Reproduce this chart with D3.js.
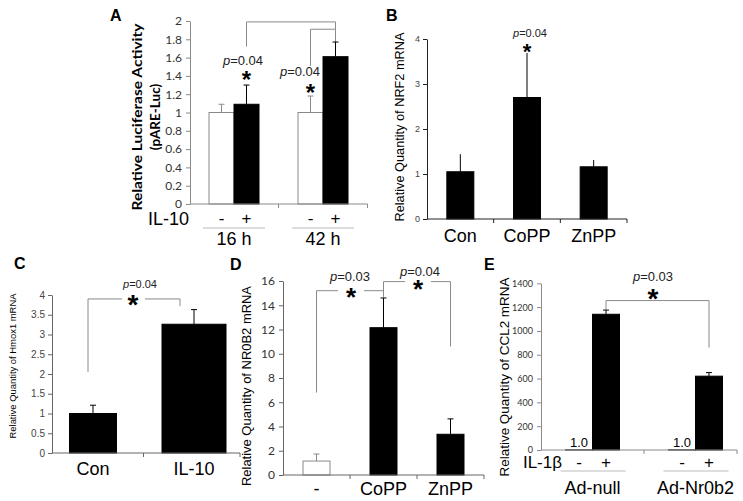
<!DOCTYPE html>
<html>
<head>
<meta charset="utf-8">
<script src="https://cdn.jsdelivr.net/npm/d3@7"></script>
<style>
  body { margin: 0; background: #fff; }
  svg { display: block; }
</style>
</head>
<body>
<svg id="fig" width="743" height="501"></svg>
<script>
// A: luciferase activity
const aGroups = ['16 h', '42 h'];
const aTreat = ['-', '+'];
const aMeans = [[1.0, 1.09], [1.0, 1.61]];
const aErrs = [[0.09, 0.21], [0.18, 0.16]];
const aTicks = [0, 0.2, 0.4, 0.6, 0.8, 1, 1.2, 1.4, 1.6, 1.8, 2];

// B: NRF2
const bCats = ['Con', 'CoPP', 'ZnPP'];
const bMeans = [1.05, 2.7, 1.16];
const bErrs = [0.39, 0.99, 0.15];
const bTicks = [0, 1, 2, 3, 4];

// C: Hmox1
const cCats = ['Con', 'IL-10'];
const cMeans = [1.0, 3.26];
const cErrs = [0.21, 0.37];
const cTicks = [0, 0.5, 1, 1.5, 2, 2.5, 3, 3.5, 4];

// D: NR0B2
const dCats = ['-', 'CoPP', 'ZnPP'];
const dMeans = [1.15, 12.15, 3.36];
const dErrs = [0.58, 2.45, 1.27];
const dTicks = [0, 2, 4, 6, 8, 10, 12, 14, 16];

// E: CCL2
const eGroups = ['Ad-null', 'Ad-Nr0b2'];
const eTreat = ['-', '+'];
const eMeans = [[1.0, 1140], [1.0, 620]];
const eErrs = [[0, 35], [0, 30]];
const eTicks = [0, 200, 400, 600, 800, 1000, 1200, 1400];

const svg = d3.select('#fig');
const ARIAL = 'Arial, "Liberation Sans", sans-serif';
const GRAY = '#8a8a8a';

// y axis with excel-like outside ticks
function yAxis(g, y, x, ticks, opt) {
  const a = g.append('g')
    .attr('transform', `translate(${x},0)`)
    .call(d3.axisLeft(y).tickValues(ticks).tickFormat(d => String(d))
      .tickSize(4).tickSizeOuter(0).tickPadding(opt.pad || 3));
  a.select('.domain').attr('stroke', opt.color);
  a.selectAll('.tick line').attr('stroke', opt.color);
  a.selectAll('.tick text')
    .attr('fill', opt.text)
    .style('font-family', opt.family)
    .style('font-size', opt.size + 'px');
}

// x baseline with tick marks on the category boundaries
function xBase(g, y0, x0, x1, marks, color) {
  g.append('line').attr('x1', x0).attr('x2', x1).attr('y1', y0).attr('y2', y0)
    .attr('stroke', color);
  g.selectAll(null).data(marks).join('line')
    .attr('x1', d => d).attr('x2', d => d)
    .attr('y1', y0).attr('y2', y0 + 4)
    .attr('stroke', color);
}

function drawBars(g, items, y, cap) {
  g.selectAll(null).data(items.filter(d => d.e > 0)).join('g')
    .each(function (d) {
      const s = d3.select(this);
      const col = d.fill === '#fff' ? GRAY : '#000';
      s.append('line').attr('x1', d.cx).attr('x2', d.cx)
        .attr('y1', y(d.v)).attr('y2', y(d.v + d.e)).attr('stroke', col);
      if (cap) {
        s.append('line').attr('x1', d.cx - cap).attr('x2', d.cx + cap)
          .attr('y1', y(d.v + d.e)).attr('y2', y(d.v + d.e)).attr('stroke', col);
      }
    });
  g.selectAll(null).data(items).join('rect')
    .attr('x', d => d.cx - d.w / 2)
    .attr('y', d => y(d.v))
    .attr('width', d => d.w)
    .attr('height', d => y(0) - y(d.v))
    .attr('fill', d => d.fill)
    .attr('stroke', d => d.fill === '#fff' ? GRAY : '#000')
    .attr('stroke-width', 1);
}

function label(g, x, y, str, size, opt = {}) {
  return g.append('text').attr('x', x).attr('y', y)
    .attr('text-anchor', opt.anchor || 'middle')
    .style('font-family', opt.family || ARIAL)
    .style('font-size', size + 'px')
    .style('font-weight', opt.weight || 'normal')
    .attr('fill', opt.fill || '#000')
    .text(str);
}

function vTitle(g, x, y, str, size, opt = {}) {
  const t = g.append('text')
    .attr('transform', `translate(${x},${y}) rotate(-90)`)
    .attr('text-anchor', 'middle')
    .attr('dominant-baseline', 'central')
    .style('font-family', opt.family || ARIAL)
    .style('font-size', size + 'px')
    .style('font-weight', opt.weight || 'normal')
    .attr('fill', '#000')
    .text(str);
  if (opt.len) t.attr('textLength', opt.len).attr('lengthAdjust', 'spacingAndGlyphs');
}

function pText(g, x, y, str, size) {
  const t = g.append('text').attr('x', x).attr('y', y)
    .attr('text-anchor', 'middle')
    .style('font-family', ARIAL).style('font-size', size + 'px').attr('fill', '#222');
  t.append('tspan').style('font-style', 'italic').text('p');
  t.append('tspan').text('=' + str);
}

function star(g, cx, cy, size) {
  g.append('text').attr('x', cx).attr('y', cy + size * 0.57)
    .attr('text-anchor', 'middle')
    .style('font-family', ARIAL).style('font-size', size + 'px').style('font-weight', 'bold')
    .text('*');
}

function bracket(g, x1, y1, x2, y2, yt, gap) {
  const c = GRAY;
  g.append('path')
    .attr('d', gap
      ? `M${x1},${y1}V${yt}H${gap[0]}M${gap[1]},${yt}H${x2}V${y2}`
      : `M${x1},${y1}V${yt}H${x2}V${y2}`)
    .attr('fill', 'none').attr('stroke', c).attr('stroke-width', 1);
}

const mids = x => x.domain().map(d => x(d) + x.bandwidth() / 2);
const bounds = x => x.domain().slice(1).map(d => x(d)).concat([x.range()[1]]);

// ---------------- Panel A ----------------
{
  const g = svg.append('g');
  const y = d3.scaleLinear([0, 2], [204, 21]);
  const x = d3.scaleBand(aGroups, [189.5, 367.5]);
  const sub = d3.scaleBand(aTreat, [-25, 25]);
  const cx = (gi, ti) => x(aGroups[gi]) + x.bandwidth() / 2 + sub(aTreat[ti]) + sub.bandwidth() / 2;

  bracket(g, cx(0, 1), y(1.72), cx(1, 1), y(1.91), y(1.99));
  bracket(g, cx(1, 0), y(1.51), cx(1, 1), y(1.77), y(1.91));

  const items = [];
  aGroups.forEach((gr, gi) => aTreat.forEach((t, ti) => items.push({
    cx: cx(gi, ti), w: 25, v: aMeans[gi][ti], e: aErrs[gi][ti], fill: ti ? '#000' : '#fff'
  })));
  drawBars(g, items, y, 3);

  yAxis(g, y, 190, aTicks, { color: GRAY, text: '#333', family: 'Lato, sans-serif', size: 12, pad: 4 });
  xBase(g, y(0), 190, 367.5, bounds(x), GRAY);

  label(g, 110, 21, 'A', 16, { anchor: 'start', weight: 'bold' });
  vTitle(g, 137, 117, 'Relative Luciferase Activity', 13.5, { family: 'Lato, sans-serif', weight: 'bold', len: 187 });
  vTitle(g, 155, 117, '(pARE-Luc)', 13.5, { family: 'Lato, sans-serif', weight: 'bold' });

  label(g, 189, 225, 'IL-10', 18, { anchor: 'end' });
  aGroups.forEach((gr, gi) => {
    aTreat.forEach((t, ti) => label(g, cx(gi, ti), 224, t, 17));
    const c = x(gr) + x.bandwidth() / 2;
    g.append('line').attr('x1', c - 31).attr('x2', c + 31).attr('y1', 228).attr('y2', 228)
      .attr('stroke', '#bbb').attr('stroke-width', 1.2);
    label(g, c, 245, gr, 18);
  });

  pText(g, 243, 65, '0.04', 13);
  star(g, cx(0, 1), 74, 24);
  pText(g, 300, 76, '0.04', 13);
  star(g, cx(1, 0), 87, 24);
}

// ---------------- Panel B ----------------
{
  const g = svg.append('g');
  const y = d3.scaleLinear([0, 4], [219, 39]);
  const x = d3.scaleBand(bCats, [427, 627]);
  const cs = mids(x);
  drawBars(g, bCats.map((c, i) => ({ cx: cs[i], w: 27, v: bMeans[i], e: bErrs[i], fill: '#000' })), y, 0);
  yAxis(g, y, 427, bTicks, { color: '#222', text: '#444', family: ARIAL, size: 9, pad: 3 });
  xBase(g, y(0), 427, 627, bounds(x), '#222');
  bCats.forEach((c, i) => label(g, cs[i], 242, c, 18));
  label(g, 386, 21, 'B', 16, { anchor: 'start', weight: 'bold' });
  vTitle(g, 400, 127, 'Relative Quantity of NRF2 mRNA', 12.5, { len: 189 });
  pText(g, 530, 37, '0.04', 11);
  star(g, cs[1], 46, 22);
}

// ---------------- Panel C ----------------
{
  const g = svg.append('g');
  const y = d3.scaleLinear([0, 4], [453, 295]);
  const x = d3.scaleBand(cCats, [42.5, 244.5]);
  const cs = mids(x);
  const widths = [47, 64];
  bracket(g, 88, y(2.05), 180, y(3.72), y(3.9), [122, 145]);
  drawBars(g, cCats.map((c, i) => ({ cx: cs[i], w: widths[i], v: cMeans[i], e: cErrs[i], fill: '#000' })), y, 3);
  yAxis(g, y, 52, cTicks, { color: '#666', text: '#444', family: ARIAL, size: 10, pad: 3 });
  xBase(g, y(0), 52, 240, [143.5, 240], '#666');
  cCats.forEach((c, i) => label(g, cs[i], 475, c, 18));
  label(g, 14, 269, 'C', 16, { anchor: 'start', weight: 'bold' });
  vTitle(g, 12, 366, 'Relative Quantity of Hmox1 mRNA', 9.5, { len: 145 });
  pText(g, 140, 288, '0.04', 11);
  star(g, 133, 298, 28);
}

// ---------------- Panel D ----------------
{
  const g = svg.append('g');
  const y = d3.scaleLinear([0, 16], [475, 281]);
  const x = d3.scaleBand(dCats, [283, 484]);
  const cs = mids(x);
  bracket(g, cs[0], y(6.8), cs[1], y(14.7), y(15.2), [338, 364]);
  bracket(g, cs[1], y(14.7), cs[2], y(10.6), y(15.95), [405, 431]);
  drawBars(g, dCats.map((c, i) => ({ cx: cs[i], w: 27, v: dMeans[i], e: dErrs[i], fill: i ? '#000' : '#fff' })), y, 3);
  yAxis(g, y, 283, dTicks, { color: '#666', text: '#333', family: 'Lato, sans-serif', size: 12, pad: 4 });
  xBase(g, y(0), 283, 484, bounds(x), '#666');
  dCats.forEach((c, i) => label(g, cs[i], 495, c, 18));
  label(g, 230, 270, 'D', 16, { anchor: 'start', weight: 'bold' });
  vTitle(g, 246, 386, 'Relative Quantity of NR0B2 mRNA', 13, { len: 200 });
  pText(g, 350, 281, '0.03', 13);
  star(g, 351, 291, 26);
  pText(g, 420, 276, '0.04', 13);
  star(g, 418, 283, 26);
}

// ---------------- Panel E ----------------
{
  const g = svg.append('g');
  const y = d3.scaleLinear([0, 1400], [450, 283.3]);
  const x = d3.scaleBand(eGroups, [541, 747]);
  const sub = d3.scaleBand(eTreat, [-27, 27]);
  const cx = (gi, ti) => x(eGroups[gi]) + x.bandwidth() / 2 + sub(eTreat[ti]) + sub.bandwidth() / 2;

  bracket(g, cx(0, 1), y(1180), cx(1, 1), y(860), y(1255));

  const items = [];
  eGroups.forEach((gr, gi) => eTreat.forEach((t, ti) => items.push({
    cx: cx(gi, ti), w: 27, v: eMeans[gi][ti], e: eErrs[gi][ti], fill: '#000'
  })));
  drawBars(g, items, y, 3);

  yAxis(g, y, 541, eTicks, { color: GRAY, text: '#333', family: 'Lato, sans-serif', size: 9, pad: 4 });
  xBase(g, y(0), 541, 737, [x(eGroups[1]), 737], GRAY);

  // small values shown as text
  items.filter(d => d.v < 10).forEach(d => label(g, d.cx, 447, d3.format('.1f')(d.v), 13));

  label(g, 484, 270, 'E', 16, { anchor: 'start', weight: 'bold' });
  vTitle(g, 504, 377, 'Relative Quantity of CCL2 mRNA', 13.5, { len: 199 });
  label(g, 562, 468, 'IL-1β', 17, { anchor: 'end' });
  eGroups.forEach((gr, gi) => {
    eTreat.forEach((t, ti) => label(g, cx(gi, ti), 468, t, 17));
    const c = x(gr) + x.bandwidth() / 2;
    g.append('line').attr('x1', c - 32).attr('x2', c + 33).attr('y1', 471).attr('y2', 471)
      .attr('stroke', '#bbb').attr('stroke-width', 1.2);
    label(g, c, 494, gr, 18);
  });

  pText(g, 653, 281, '0.03', 13);
  star(g, 653, 292, 28);
}
</script>
</body>
</html>
